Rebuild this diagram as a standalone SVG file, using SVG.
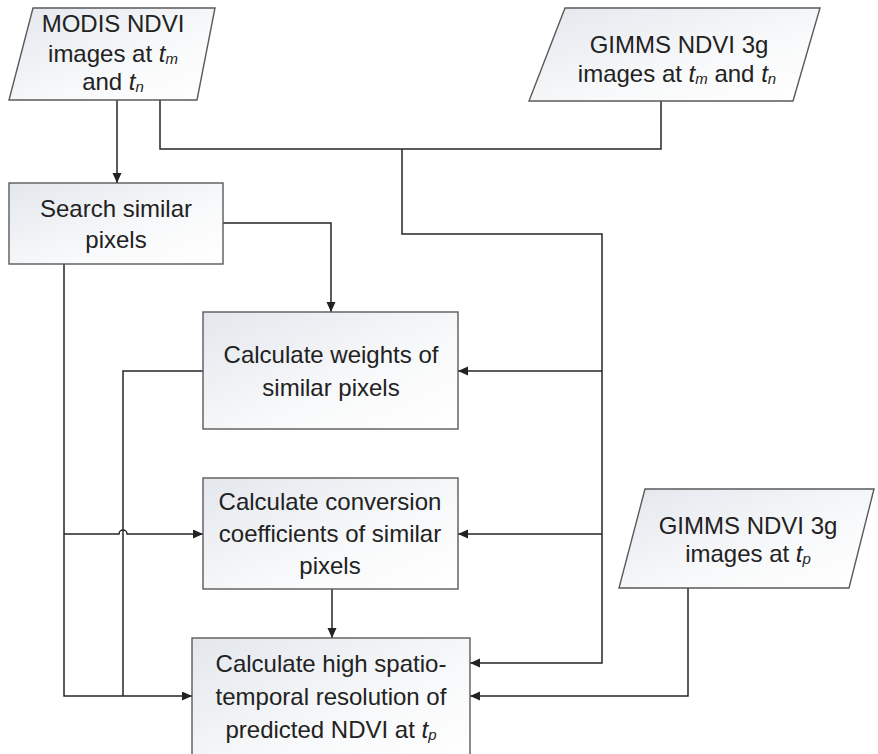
<svg xmlns="http://www.w3.org/2000/svg" width="878" height="754" viewBox="0 0 878 754">
<defs>
<linearGradient id="fillG" x1="0" y1="0" x2="1" y2="1">
<stop offset="0" stop-color="#e3e7ed"/>
<stop offset="0.6" stop-color="#f8f9fa"/>
<stop offset="1" stop-color="#ffffff"/>
</linearGradient>
<marker id="arr" markerUnits="userSpaceOnUse" markerWidth="11" markerHeight="10" refX="10" refY="4.5" orient="auto">
<path d="M0,0 L10,4.5 L0,9 z" fill="#222"/>
</marker>
<style>
.shape{fill:url(#fillG);stroke:#5a5a5a;stroke-width:1.4}
.conn{fill:none;stroke:#262626;stroke-width:1.5}
.lbl{font-family:"Liberation Sans",Arial,sans-serif;font-size:24px;fill:#222;text-anchor:middle}
.it{font-style:italic}
.sub{font-style:italic;font-size:15px}
</style>
</defs>
<rect width="878" height="754" fill="#ffffff"/>

<g id="connectors">
<path class="conn" d="M117,100 V183" marker-end="url(#arr)"/>
<path class="conn" d="M160,100 V149 H661 V101"/>
<path class="conn" d="M402,149 V234 H602 V663 H470" marker-end="url(#arr)"/>
<path class="conn" d="M602,371 H458" marker-end="url(#arr)"/>
<path class="conn" d="M602,534 H458" marker-end="url(#arr)"/>
<path class="conn" d="M223,223 H331 V312" marker-end="url(#arr)"/>
<path class="conn" d="M64,264 V696 H192" marker-end="url(#arr)"/>
<path class="conn" d="M203,371 H123 V696"/>
<path class="conn" d="M64,534 H119 A4,4 0 0 1 127,534 H203" marker-end="url(#arr)"/>
<path class="conn" d="M332,589 V638" marker-end="url(#arr)"/>
<path class="conn" d="M688,588 V696 H470" marker-end="url(#arr)"/>
</g>

<g id="modis-input">
<polygon class="shape" points="33,8 215,8 197,100 9,100"/>
<text class="lbl" x="113" y="32">MODIS NDVI</text>
<text class="lbl" x="113" y="62">images at <tspan class="it">t</tspan><tspan class="sub" dy="2">m</tspan></text>
<text class="lbl" x="113" y="90">and <tspan class="it">t</tspan><tspan class="sub" dy="2">n</tspan></text>
</g>

<g id="gimms-input-mn">
<polygon class="shape" points="565,8 820,8 793,101 529,101"/>
<text class="lbl" x="679" y="53">GIMMS NDVI 3g</text>
<text class="lbl" x="677" y="82">images at <tspan class="it">t</tspan><tspan class="sub" dy="2">m</tspan><tspan dy="-2"> and </tspan><tspan class="it">t</tspan><tspan class="sub" dy="2">n</tspan></text>
</g>

<g id="search">
<rect class="shape" x="9" y="183" width="214" height="81"/>
<text class="lbl" x="116" y="217">Search similar</text>
<text class="lbl" x="116" y="248">pixels</text>
</g>

<g id="weights">
<rect class="shape" x="203" y="312" width="255" height="117"/>
<text class="lbl" x="331" y="363">Calculate weights of</text>
<text class="lbl" x="331" y="396">similar pixels</text>
</g>

<g id="conversion">
<rect class="shape" x="203" y="478" width="255" height="111"/>
<text class="lbl" x="330" y="510">Calculate conversion</text>
<text class="lbl" x="330" y="542">coefficients of similar</text>
<text class="lbl" x="330" y="574">pixels</text>
</g>

<g id="gimms-input-p">
<polygon class="shape" points="645,489 874,489 849,588 619,588"/>
<text class="lbl" x="748" y="534">GIMMS NDVI 3g</text>
<text class="lbl" x="748" y="562">images at <tspan class="it">t</tspan><tspan class="sub" dy="2">p</tspan></text>
</g>

<g id="prediction">
<rect class="shape" x="192" y="638" width="278" height="130"/>
<text class="lbl" x="331" y="672">Calculate high spatio-</text>
<text class="lbl" x="331" y="705">temporal resolution of</text>
<text class="lbl" x="331" y="738">predicted NDVI at <tspan class="it">t</tspan><tspan class="sub" dy="2">p</tspan></text>
</g>
</svg>
